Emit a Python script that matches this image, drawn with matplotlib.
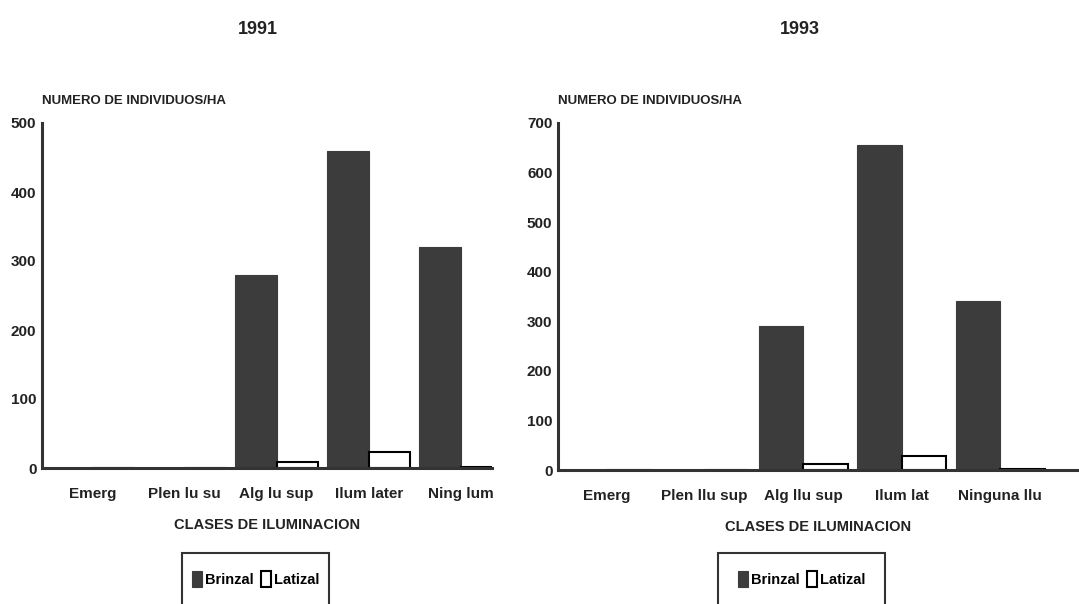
import matplotlib
matplotlib.use("Agg")
import matplotlib.pyplot as plt
from matplotlib.patches import Rectangle
import numpy as np

plt.rcParams['font.family'] = ['Liberation Sans Narrow', 'Liberation Sans', 'DejaVu Sans']
plt.rcParams['font.weight'] = 'bold'

cats_1991 = ["Emerg", "Plen lu su", "Alg lu sup", "Ilum later", "Ning lum"]
brinzal_1991 = [0, 0, 280, 460, 320]
latizal_1991 = [0, 0, 8, 23, 2]

cats_1993 = ["Emerg", "Plen llu sup", "Alg llu sup", "Ilum lat", "Ninguna llu"]
brinzal_1993 = [0, 0, 290, 655, 340]
latizal_1993 = [0, 0, 12, 28, 2]

titles = ["1991", "1993"]
yticks_1991 = [0, 100, 200, 300, 400, 500]
yticks_1993 = [0, 100, 200, 300, 400, 500, 600, 700]

DARK = "#3c3c3c"
AX = "#333333"

fig = plt.figure(figsize=(10.79, 6.04), dpi=100)

specs = [
    dict(rect=[42/1079, 1-468/604, (492-42)/1079, (468-123)/604], cats=cats_1991,
         b=brinzal_1991, l=latizal_1991, yt=yticks_1991, ymax=500, xlim=(-0.55, 4.34),
         title="1991", tx=258/1079, leg=(182, 329)),
    dict(rect=[558/1079, 1-470/604, (1079-558)/1079, (470-123)/604], cats=cats_1993,
         b=brinzal_1993, l=latizal_1993, yt=yticks_1993, ymax=700, xlim=(-0.49, 4.8),
         title="1993", tx=800/1079, leg=(718, 885)),
]

w = 0.45
for s in specs:
    ax = fig.add_axes(s["rect"])
    x = np.arange(len(s["cats"]))
    hb = ax.bar(x - w/2, s["b"], w, color=DARK, edgecolor=DARK, linewidth=0.8, label="Brinzal")
    hl = ax.bar(x + w/2, s["l"], w, color="white", edgecolor="black", linewidth=1.5, label="Latizal")
    ax.set_xlim(*s["xlim"])
    ax.set_ylim(0, s["ymax"])
    ax.set_yticks(s["yt"])
    ax.set_yticklabels([str(v) for v in s["yt"]], fontsize=11, fontweight='bold', color="#222222")
    ax.set_xticks(x)
    ax.set_xticklabels(s["cats"], fontsize=11, fontweight='bold', color="#222222")
    ax.tick_params(length=0)
    ax.tick_params(axis='x', pad=14)
    ax.tick_params(axis='y', pad=4)
    for sp in ["top", "right"]:
        ax.spines[sp].set_visible(False)
    for sp in ["left", "bottom"]:
        ax.spines[sp].set_linewidth(2.2)
        ax.spines[sp].set_color(AX)
    ax.set_xlabel("CLASES DE ILUMINACION", fontsize=10.5, fontweight='bold', labelpad=12, color="#222222")
    ax.text(0, 1.045, "NUMERO DE INDIVIDUOS/HA", transform=ax.transAxes, ha='left', va='bottom',
            fontsize=9.5, fontweight='bold', color="#222222")
    fig.text(s["tx"], 1-30/604, s["title"], ha='center', va='center', fontsize=13,
             fontweight='bold', color="#222222")
    lx0, lx1 = s["leg"]
    fig.patches.append(Rectangle((lx0/1079, -0.02), (lx1-lx0)/1079, (0.02 + 1-553/604),
                                 transform=fig.transFigure, fill=False, edgecolor=AX, linewidth=1.5))
    fig.legend(handles=[hb, hl], labels=["Brinzal", "Latizal"], loc='center',
               bbox_to_anchor=((lx0+lx1)/2/1079, 1-579/604), ncol=2, frameon=False,
               fontsize=10.5, handlelength=0.7, handleheight=1.3, handletextpad=0.2,
               columnspacing=0.5, borderpad=0)

fig.savefig("out.png", dpi=100)
